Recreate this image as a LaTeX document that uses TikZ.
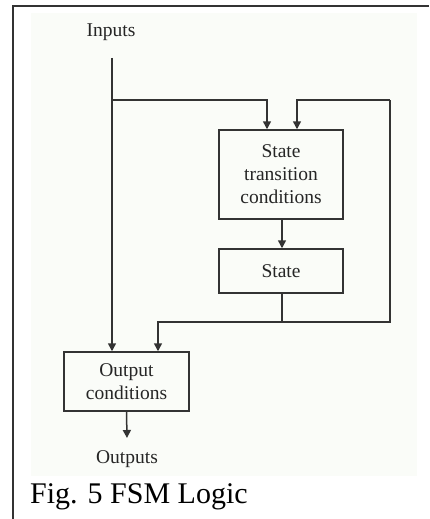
\documentclass[tikz,border=0pt]{standalone}
\usepackage{fontspec}
\setmainfont{Liberation Serif}
\usetikzlibrary{arrows.meta}
\definecolor{ln}{HTML}{333333}
\definecolor{panel}{HTML}{FAFCF8}
\tikzset{
  blk/.style={draw=ln, line width=1.5pt, minimum width=124pt, align=center, inner sep=0pt,
     font=\fontsize{19.5}{23}\selectfont, text=black!85},
  lbl/.style={font=\fontsize{19.5}{23}\selectfont, text=black!85, inner sep=0pt},
  wire/.style={draw=ln, line width=1.5pt},
  arr/.style={wire, -{Triangle[length=8pt,width=8pt]}}
}
\begin{document}
\begin{tikzpicture}[x=1pt,y=-1pt]
\useasboundingbox (0,0) rectangle (429,519);
\fill[panel] (31,13) rectangle (417,476);
\draw[ln, line width=2pt] (12.5,519) -- (12.5,6.5) -- (429,6.5);
% nodes
\node[lbl] (inp) at (111,32) {Inputs};
\coordinate (intop) at (112,58);
\node[blk, minimum height=89pt] (stc) at (281,174.5) {State\\transition\\conditions};
\node[blk, minimum height=44pt] (st) at (281,271) {State};
\node[blk, minimum width=125pt, minimum height=59pt] (oc) at (126.5,381.5) {Output\\conditions};
\node[lbl] (outp) at (127,459) {Outputs};
\coordinate (outend) at (127,438);
\coordinate (br) at (112,100);
\coordinate (j) at (282,322);
\coordinate (rt) at (390,322);
\coordinate (rtop) at (390,100);
% connectors
\draw[arr] (intop) -- (intop |- oc.north);
\draw[arr] (br) -| ([xshift=-14pt]stc.north);
\draw[wire] (st.south -| j) -- (j) -- (rt) -- (rtop);
\draw[arr] (rtop) -| ([xshift=16pt]stc.north);
\draw[arr] (j) -| ([xshift=31.5pt]oc.north);
\draw[arr] (stc.south -| j) -- (st.north -| j);
\draw[arr] (oc.south) -- (outend);
\node[anchor=base west, inner sep=0pt, font=\fontsize{30}{34}\selectfont] (cap) at (30,503) {Fig. 5 FSM Logic};
\end{tikzpicture}
\end{document}
